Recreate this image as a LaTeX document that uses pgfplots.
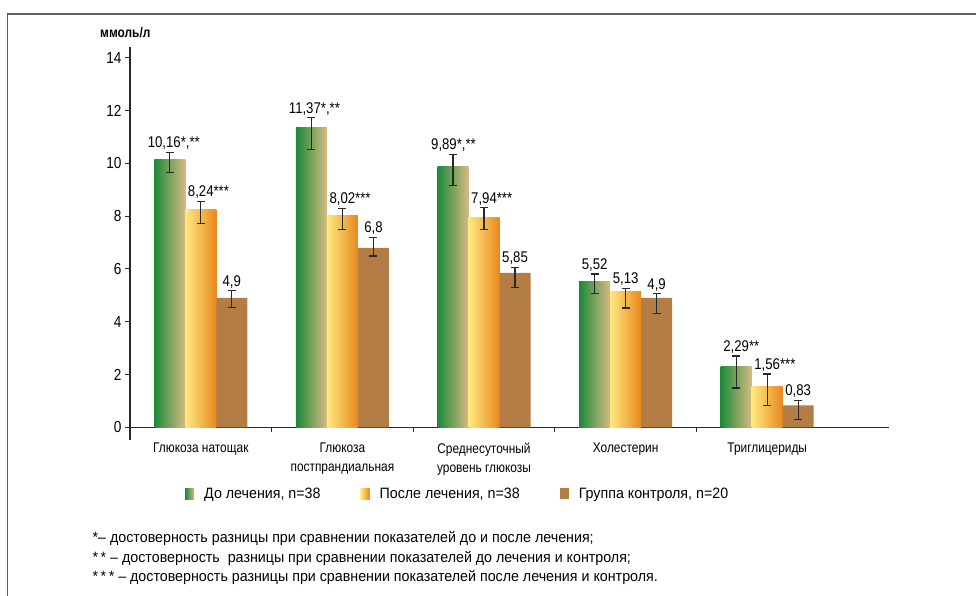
\documentclass[border=0pt]{standalone}
\usepackage{pgfplots}
\pgfplotsset{compat=1.18}
\usepackage{fontspec}
\setmainfont{Liberation Sans}[FakeStretch=0.85]
\newfontfamily\widefont{Liberation Sans}[FakeStretch=0.95]

\definecolor{grdark}{RGB}{28,138,58}
\definecolor{grlight}{RGB}{216,186,130}
\definecolor{yelight}{RGB}{255,233,128}
\definecolor{yedark}{RGB}{232,136,30}
\definecolor{brownc}{RGB}{181,125,70}
\definecolor{inkc}{RGB}{40,40,40}
\definecolor{framec}{RGB}{95,95,95}

\newcommand\fs[2]{\fontsize{#1bp}{#2bp}\selectfont}
% value label above an error bar: x, top of error bar, text, horizontal shift
\newcommand\vlab[4]{\node[anchor=base, inner sep=0pt, font=\fs{15.5}{18}, xshift=#4, yshift=4.5bp] at (axis cs:#1,#2) {#3};}
\newcommand\clab[2]{\node[anchor=north, inner sep=0pt, align=center, font=\fs{14}{19}, yshift=-15.5bp] at (axis cs:#1,0) {#2};}

% bar styles: each bar is its own plot so that every bar carries its own gradient
\pgfplotsset{
  before/.style={bar shift=-31bp, draw=none, left color=grdark, right color=grlight},
  after/.style={bar shift=0bp, draw=none, left color=yelight, right color=yedark},
  control/.style={bar shift=31bp, draw=none, fill=brownc},
}

\begin{document}
\begin{tikzpicture}
\path[use as bounding box] (0bp,0bp) rectangle (976bp,596bp);
\draw[framec, line width=1.6bp] (7.5bp,0bp) -- (7.5bp,582bp) -- (976bp,582bp);
\node[anchor=base west, inner sep=0pt, font=\fs{14}{16}\bfseries] at (100bp,558bp) {ммоль/л};

\begin{axis}[
  at={(130bp,168.7bp)}, anchor=south west,
  scale only axis, width=759bp, height=380bp,
  xmin=-0.5, xmax=4.86, ymin=0, ymax=14.4,
  axis x line*=bottom, axis y line*=left,
  axis line style={inkc, line width=1.1bp},
  clip=false,
  ytick={0,2,...,14},
  xtick={0.5,1.5,2.5,3.5}, xticklabels={},
  tick align=outside, major tick length=5bp,
  every tick/.style={inkc, line width=1bp},
  yticklabel style={font=\fs{16}{19}, /pgf/number format/assume math mode=true},
  ybar, bar width=31bp,
  error bars/y dir=both, error bars/y explicit,
  error bars/error bar style={draw=inkc, line width=1.1bp},
  error bars/error mark=-,
  error bars/error mark options={rotate=90, draw=inkc, line width=1.1bp, mark size=4bp},
  legend columns=3,
  legend style={draw=none, fill=none, at={(axis description cs:0.0725,-0.1755)}, anchor=west,
    inner sep=0pt, nodes={inner sep=0pt}, font=\widefont\fs{15}{18},
    /tikz/every odd column/.append style={column sep=10bp},
    /tikz/every even column/.append style={column sep=40bp}},
  legend image code/.code={\path[#1] (0bp,-5.5bp) rectangle (9bp,5.5bp);},
]

% До лечения
\addplot[before] coordinates {(0,10.16) += (0,0.26) -= (0,0.52)};
\addlegendentry{До лечения, n=38}
\addplot[before, forget plot] coordinates {(1,11.37) += (0,0.36) -= (0,0.84)};
\addplot[before, forget plot] coordinates {(2,9.89)  += (0,0.46) -= (0,0.72)};
\addplot[before, forget plot] coordinates {(3,5.52)  += (0,0.29) -= (0,0.44)};
\addplot[before, forget plot] coordinates {(4,2.29)  += (0,0.41) -= (0,0.80)};

% После лечения
\addplot[after] coordinates {(0,8.24) += (0,0.32) -= (0,0.52)};
\addlegendentry{После лечения, n=38}
\addplot[after, forget plot] coordinates {(1,8.02) += (0,0.28) -= (0,0.53)};
\addplot[after, forget plot] coordinates {(2,7.94) += (0,0.38) -= (0,0.43)};
\addplot[after, forget plot] coordinates {(3,5.13) += (0,0.14) -= (0,0.61)};
\addplot[after, forget plot] coordinates {(4,1.56) += (0,0.46) -= (0,0.74)};

% Группа контроля
\addplot[control] coordinates {
  (0,4.9)  += (0,0.27) -= (0,0.35)
  (1,6.8)  += (0,0.40) -= (0,0.31)
  (2,5.85) += (0,0.22) -= (0,0.54)
  (3,4.9)  += (0,0.16) -= (0,0.58)
  (4,0.83) += (0,0.19) -= (0,0.53)
};
\addlegendentry{Группа контроля, n=20}

% the y axis runs on a little below zero
\draw[inkc, line width=1.1bp] (axis cs:-0.5,0) -- ++(0bp,-13bp);

\vlab{-0.219}{10.42}{10,16\rlap{*,**}}{-5.5bp}
\vlab{0}{8.56}{8,24\rlap{***}}{0bp}
\vlab{0.219}{5.17}{4,9}{0bp}
\vlab{0.781}{11.73}{11,37\rlap{*,**}}{-6.5bp}
\vlab{1}{8.30}{8,02\rlap{***}}{0bp}
\vlab{1.219}{7.20}{6,8}{0bp}
\vlab{1.781}{10.35}{9,89\rlap{*,**}}{-9bp}
\vlab{2}{8.32}{7,94\rlap{***}}{0bp}
\vlab{2.219}{6.07}{5,85}{0bp}
\vlab{2.781}{5.81}{5,52}{0bp}
\vlab{3}{5.27}{5,13}{0bp}
\vlab{3.219}{5.06}{4,9}{0bp}
\vlab{3.781}{2.70}{2,29\rlap{**}}{0bp}
\vlab{4}{2.02}{1,56\rlap{***}}{0bp}
\vlab{4.219}{1.02}{0,83}{0bp}

\clab{0}{Глюкоза натощак}
\clab{1}{Глюкоза\\постпрандиальная}
\clab{2}{Среднесуточный\\уровень глюкозы}
\clab{3}{Холестерин}
\clab{4}{Триглицериды}
\end{axis}

\begin{scope}[every node/.style={anchor=base west, inner sep=0pt, font=\widefont\fs{15}{18}}]
\node at (92.5bp,53bp) {*– достоверность разницы при сравнении показателей до и после лечения;};
\node at (92.5bp,34bp) {*\,* – достоверность\ \ разницы при сравнении показателей до лечения и контроля;};
\node at (92.5bp,15bp) {*\,*\,* – достоверность разницы при сравнении показателей после лечения и контроля.};
\end{scope}
\end{tikzpicture}
\end{document}
